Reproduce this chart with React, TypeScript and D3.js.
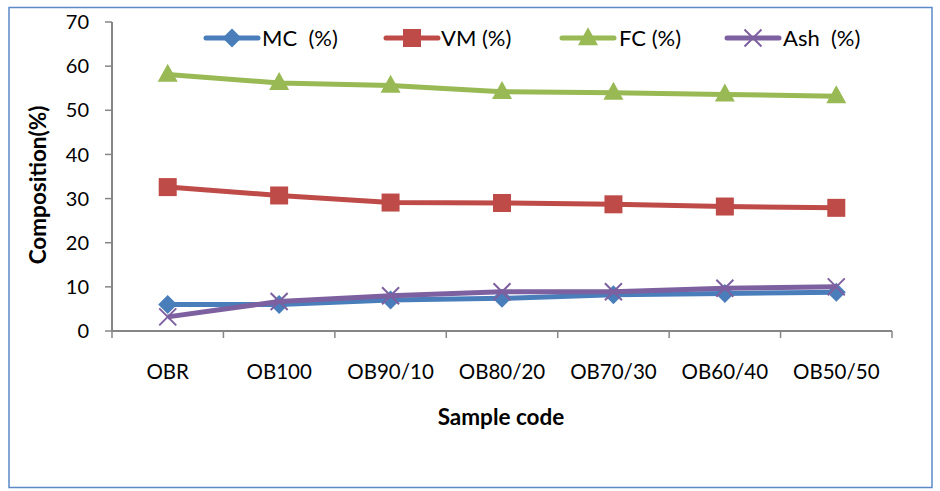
import React from "react";
import * as d3 from "d3";

const categories = ["OBR", "OB100", "OB90/10", "OB80/20", "OB70/30", "OB60/40", "OB50/50"];
const mcValues = [6.0, 6.0, 7.0, 7.4, 8.2, 8.5, 8.8];
const vmValues = [32.6, 30.7, 29.1, 29.0, 28.7, 28.2, 27.9];
const fcValues = [58.1, 56.2, 55.6, 54.2, 54.0, 53.6, 53.2];
const ashValues = [3.2, 6.7, 8.0, 8.9, 8.9, 9.7, 10.0];
const yTicks = [0, 10, 20, 30, 40, 50, 60, 70];
const seriesNames = ["MC  (%)", "VM (%)", "FC (%)", "Ash  (%)"];
const seriesColors = ["#4A7EBB", "#BE4B48", "#98B954", "#7D60A0"];
const seriesMarkers = ["diamond", "square", "triangle", "x"];

const FONT = "Lato, 'Open Sans', sans-serif";

function Marker({ type, x, y, color }: { type: string; x: number; y: number; color: string }) {
  if (type === "diamond") {
    const s = 9.5;
    return <path d={`M${x},${y - s}L${x + s},${y}L${x},${y + s}L${x - s},${y}Z`} fill={color} />;
  }
  if (type === "square") {
    const s = 9;
    return <rect x={x - s} y={y - s} width={2 * s} height={2 * s} fill={color} />;
  }
  if (type === "triangle") {
    const w = 10, h = 18;
    return <path d={`M${x},${y - h * 0.6}L${x + w},${y + h * 0.4}L${x - w},${y + h * 0.4}Z`} fill={color} />;
  }
  const s = 8.5;
  return (
    <path d={`M${x - s},${y - s}L${x + s},${y + s}M${x - s},${y + s}L${x + s},${y - s}`} stroke={color} strokeWidth={2} fill="none" />
  );
}

export default function App() {
  const W = 940, H = 491;
  const left = 112, right = 892, top = 22, bottom = 331;
  const x = d3.scaleBand<string>().domain(categories).range([left, right]);
  const y = d3.scaleLinear().domain([0, 70]).range([bottom, top]);
  const series = [mcValues, vmValues, fcValues, ashValues];
  const line = d3
    .line<number>()
    .x((_, i) => (x(categories[i]) as number) + x.bandwidth() / 2)
    .y((d) => y(d));
  const axisColor = "#868686";
  const legendItems = [
    { lx: 206, tx: 262 },
    { lx: 386, tx: 441 },
    { lx: 562, tx: 619 },
    { lx: 727, tx: 783 },
  ];
  const order = [2, 1, 0, 3];
  return (
    <svg width={W} height={H} style={{ position: "absolute", left: 0, top: 0 }} fontFamily={FONT}>
      <rect x={0} y={0} width={W} height={H} fill="#fff" />
      <rect x={9} y={7.5} width={923} height={480} fill="none" stroke="#5B8AC7" strokeWidth={1.5} />
      {/* y axis */}
      <line x1={left} x2={left} y1={top} y2={bottom} stroke={axisColor} strokeWidth={2} />
      {yTicks.map((t) => (
        <g key={t}>
          <line x1={left - 7} x2={left} y1={y(t)} y2={y(t)} stroke={axisColor} strokeWidth={1.5} />
          <text x={89} y={y(t)} dy="0.36em" textAnchor="end" fontSize={20} fill="#000">
            {t}
          </text>
        </g>
      ))}
      {/* x axis */}
      <line x1={left} x2={right} y1={bottom} y2={bottom} stroke={axisColor} strokeWidth={2} />
      {categories.concat([""]).map((c, i) => {
        const xx = left + i * x.bandwidth();
        return <line key={i} x1={xx} x2={xx} y1={bottom} y2={bottom + 7} stroke={axisColor} strokeWidth={1.5} />;
      })}
      {categories.map((c) => (
        <text key={c} x={(x(c) as number) + x.bandwidth() / 2} y={379} textAnchor="middle" fontSize={20.5} fill="#000">
          {c}
        </text>
      ))}
      <text x={501} y={425} textAnchor="middle" fontSize={22.5} fontWeight="bold" fill="#000">
        Sample code
      </text>
      <text transform={`translate(46,185) rotate(-90)`} textAnchor="middle" fontSize={22.5} fontWeight="bold" fill="#000">
        Composition(%)
      </text>
      {/* series */}
      {order.map((si) => (
        <g key={si}>
          <path d={line(series[si]) as string} fill="none" stroke={seriesColors[si]} strokeWidth={5} strokeLinejoin="round" />
          {series[si].map((v, i) => (
            <Marker
              key={i}
              type={seriesMarkers[si]}
              x={(x(categories[i]) as number) + x.bandwidth() / 2}
              y={y(v)}
              color={seriesColors[si]}
            />
          ))}
        </g>
      ))}
      {/* legend */}
      {legendItems.map((it, i) => (
        <g key={i}>
          <line x1={it.lx} x2={it.lx + 52} y1={38} y2={38} stroke={seriesColors[i]} strokeWidth={5} strokeLinecap="round" />
          <Marker type={seriesMarkers[i]} x={it.lx + 26} y={38} color={seriesColors[i]} />
          <text x={it.tx} y={38} dy="0.36em" fontSize={22} fill="#000" style={{ whiteSpace: "pre" }}>
            {seriesNames[i]}
          </text>
        </g>
      ))}
    </svg>
  );
}
